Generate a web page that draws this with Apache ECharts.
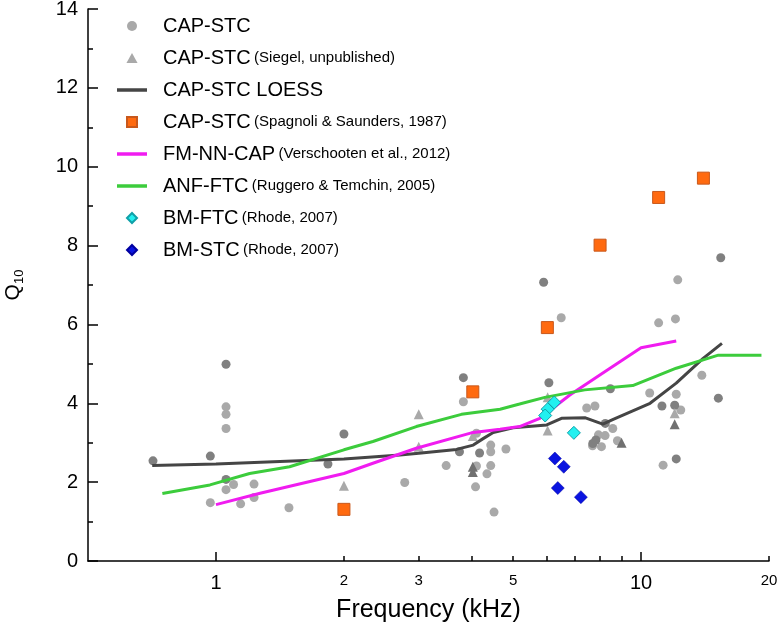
<!DOCTYPE html>
<html>
<head>
<meta charset="utf-8">
<script src="https://cdn.jsdelivr.net/npm/echarts@6/dist/echarts.min.js"></script>
<style>html,body{margin:0;padding:0;background:#fff}#c{width:779px;height:626px}</style>
</head>
<body>
<div id="c"></div>
<script>
// ---- data (frequency kHz, Q10) ----
var capLight = [[0.97,1.48],[1.056,3.91],[1.056,3.72],[1.056,3.36],[1.10,1.94],[1.229,1.95],[1.056,1.81],[1.143,1.45],[1.229,1.61],[1.485,1.35],[2.78,1.99],[3.82,4.04],[3.48,2.42],[4.43,2.94],[4.43,2.77],[4.81,2.84],[4.10,2.41],[4.43,2.42],[4.34,2.21],[4.08,1.88],[4.51,1.24],[4.1,3.24],[6.49,6.17],[7.45,3.88],[7.79,3.93],[8.58,3.36],[10.48,4.26],[12.1,4.23],[12.4,3.83],[13.9,4.71],[11.0,6.04],[12.05,6.14],[12.2,7.13],[7.94,3.20],[8.23,3.18],[8.07,2.90],[7.69,2.92],[8.8,3.05],[11.27,2.43]];
var capDark = [[0.711,2.54],[1.056,4.99],[0.97,2.66],[2.0,3.22],[1.834,2.46],[1.056,2.07],[3.82,4.65],[3.74,2.77],[4.17,2.74],[5.90,7.07],[6.07,4.52],[8.47,4.37],[8.24,3.49],[11.2,3.93],[12.0,3.95],[15.2,4.13],[15.4,7.69],[7.83,3.07],[7.7,2.98],[12.1,2.59]];
var siegelLight = [[2.0,1.91],[3.0,3.72],[3.0,2.90],[4.02,3.17],[6.03,4.15],[6.03,3.31],[12.0,3.75]];
var siegelDark = [[4.02,2.39],[4.02,2.26],[9.0,3.0],[12.0,3.47]];
var loess = [[0.708,2.42],[1.0,2.46],[2.0,2.59],[2.71,2.69],[3.0,2.73],[3.68,2.83],[4.03,2.94],[4.26,3.11],[4.49,3.26],[5.0,3.38],[6.0,3.45],[6.5,3.62],[7.4,3.63],[8.13,3.47],[8.6,3.59],[10.5,4.0],[12.1,4.51],[14.0,5.14],[15.5,5.52]];
var spagnoli = [[2.0,1.31],[4.02,4.29],[6.02,5.92],[8.01,8.01],[11.0,9.22],[14.02,9.71]];
var fmnn = [[1.0,1.43],[1.27,1.72],[2.0,2.22],[2.34,2.48],[2.96,2.86],[3.99,3.25],[4.66,3.34],[5.18,3.41],[5.78,3.62],[6.8,4.21],[8.0,4.72],[10.0,5.41],[12.1,5.58]];
var anf = [[0.748,1.71],[0.968,1.93],[1.20,2.22],[1.49,2.39],[2.0,2.82],[2.34,3.03],[2.96,3.41],[3.78,3.72],[4.66,3.85],[5.18,3.98],[5.94,4.15],[7.37,4.34],[9.56,4.45],[12.1,4.89],[15.2,5.22],[19.2,5.22]];
var bmFtc = [[6.25,4.02],[6.03,3.85],[5.95,3.69],[6.95,3.25]];
var bmStc = [[6.27,2.60],[6.58,2.39],[6.37,1.85],[7.22,1.62]];
var xLabels = [1,2,3,5,10,20];
var xMajorTicks = [1,10];
var xMinorTicks = [2,3,4,5,6,7,8,9,20];
var legendNames = ['CAP-STC','CAP-STC (Siegel, unpublished)','CAP-STC LOESS','CAP-STC (Spagnoli & Saunders, 1987)','FM-NN-CAP (Verschooten et al., 2012)','ANF-FTC (Ruggero & Temchin, 2005)','BM-FTC (Rhode, 2007)','BM-STC (Rhode, 2007)'];
var LINE_ICON = 'path://M0,0h30v3.5h-30z';
var legendIcons = ['circle','path://M5,0L10,9L0,9Z',LINE_ICON,'path://M0,0h10v10h-10z',LINE_ICON,LINE_ICON,'path://M5,0L10,5L5,10L0,5Z','path://M5,0L10,5L5,10L0,5Z'];

var FONT = '"Liberation Sans", Arial, sans-serif';
var chart = echarts.init(document.getElementById('c'), null, {renderer:'canvas'});
var xBase = {type:'log', logBase:10, min:0.5, max:20, gridIndex:0, position:'bottom'};
chart.setOption({
  animation:false,
  backgroundColor:'#fff',
  textStyle:{fontFamily:FONT},
  grid:{left:88, right:10, top:9, bottom:65, containLabel:false, outerBoundsMode:'none'},
  legend:{
    orient:'vertical', left:112, top:11, itemWidth:30, itemHeight:10, itemGap:12,
    symbolKeepAspect:true,
    data:legendNames.map(function(n,i){ return {name:n, icon:legendIcons[i]}; }),
    formatter:function(n){
      var i=n.indexOf(' (');
      if(i<0) return '{a|'+n+'}';
      return '{a|'+n.slice(0,i)+'} {b|'+n.slice(i+1)+'}';
    },
    textStyle:{color:'#000', fontFamily:FONT, padding:[0,0,0,11],
      rich:{a:{fontSize:20, lineHeight:22, fontFamily:FONT, color:'#000'}, b:{fontSize:15, lineHeight:22, fontFamily:FONT, color:'#000'}}}
  },
  xAxis:[
    Object.assign({}, xBase, {
      name:'Frequency (kHz)', nameLocation:'middle', nameGap:36,
      nameTextStyle:{fontSize:25, color:'#000', fontFamily:FONT},
      axisLine:{lineStyle:{color:'#000', width:1.5}},
      axisTick:{inside:true, length:9, customValues:xMajorTicks, lineStyle:{color:'#000', width:1.5}},
      axisLabel:{customValues:xLabels, margin:12, color:'#000', fontFamily:FONT,
        formatter:function(v){ v=Math.round(v*1000)/1000; return (v===1||v===10)?'{b|'+v+'}':'{s|'+v+'}'; },
        rich:{b:{fontSize:20, fontFamily:FONT, color:'#000'}, s:{fontSize:15, fontFamily:FONT, color:'#000'}}},
      splitLine:{show:false}
    }),
    Object.assign({}, xBase, {
      axisLine:{show:false},
      axisTick:{inside:true, length:5, customValues:xMinorTicks, lineStyle:{color:'#000', width:1.5}},
      axisLabel:{show:false},
      splitLine:{show:false}
    })
  ],
  yAxis:{
    type:'value', min:0, max:14, interval:2,
    name:'{q|Q}{s|10}', nameLocation:'middle', nameGap:62,
    nameTextStyle:{color:'#000', fontFamily:FONT,
      rich:{q:{fontSize:21, lineHeight:26, fontFamily:FONT, color:'#000'}, s:{fontSize:13, lineHeight:26, verticalAlign:'bottom', fontFamily:FONT, color:'#000'}}},
    axisLine:{show:true, lineStyle:{color:'#000', width:1.5}},
    axisTick:{show:true, inside:true, length:10, lineStyle:{color:'#000', width:1.5}},
    minorTick:{show:true, splitNumber:2, length:5, lineStyle:{color:'#000', width:1.5}},
    axisLabel:{fontSize:20, color:'#000', margin:10, fontFamily:FONT},
    splitLine:{show:false}
  },
  series:[
    {name:'CAP-STC', type:'scatter', data:capLight, symbol:'circle', symbolSize:9, itemStyle:{color:'#a9a9a9', opacity:1}, z:2},
    {name:'CAP-STC dark', type:'scatter', data:capDark, symbol:'circle', symbolSize:9, itemStyle:{color:'#808080', opacity:1}, z:2},
    {name:'CAP-STC (Siegel, unpublished)', type:'scatter', data:siegelLight, symbol:'triangle', symbolSize:10, itemStyle:{color:'#a9a9a9', opacity:1}, z:2},
    {name:'Siegel dark', type:'scatter', data:siegelDark, symbol:'triangle', symbolSize:10, itemStyle:{color:'#707070', opacity:1}, z:2},
    {name:'CAP-STC LOESS', type:'line', data:loess, symbol:'none', smooth:false, lineStyle:{color:'#454545', width:3}, itemStyle:{color:'#454545'}, z:3},
    {name:'FM-NN-CAP (Verschooten et al., 2012)', type:'line', data:fmnn, symbol:'none', lineStyle:{color:'#f01cf0', width:3}, itemStyle:{color:'#f01cf0'}, z:3},
    {name:'ANF-FTC (Ruggero & Temchin, 2005)', type:'line', data:anf, symbol:'none', lineStyle:{color:'#3ccc3c', width:3}, itemStyle:{color:'#3ccc3c'}, z:3},
    {name:'CAP-STC (Spagnoli & Saunders, 1987)', type:'scatter', data:spagnoli, symbol:'rect', symbolSize:12, itemStyle:{color:'#ff6a10', borderColor:'#c8581c', borderWidth:1, opacity:1}, z:4},
    {name:'BM-FTC (Rhode, 2007)', type:'scatter', data:bmFtc, symbol:'diamond', symbolSize:13, itemStyle:{color:'#22f0f0', borderColor:'#10a0a8', borderWidth:1, opacity:1}, z:4},
    {name:'BM-STC (Rhode, 2007)', type:'scatter', data:bmStc, symbol:'diamond', symbolSize:13, itemStyle:{color:'#0a14e0', borderColor:'#0000a0', borderWidth:0.5, opacity:1}, z:4}
  ]
});
</script>
</body>
</html>
